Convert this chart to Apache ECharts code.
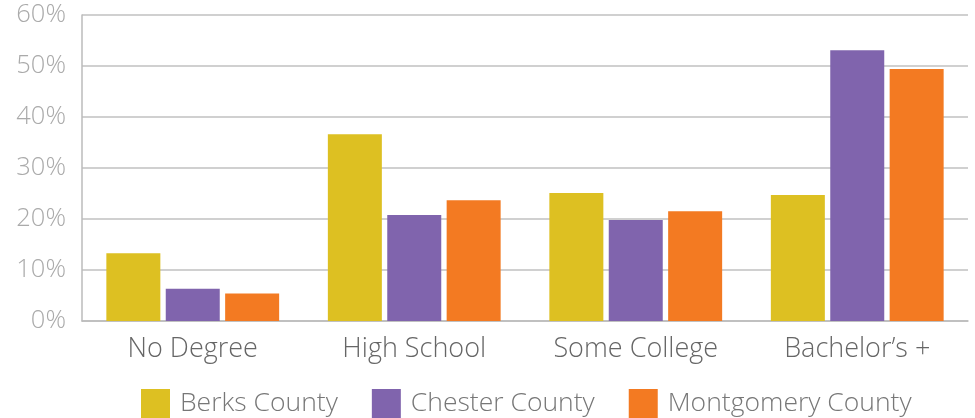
<!DOCTYPE html>
<html><head><meta charset="utf-8">
<script src="https://cdn.jsdelivr.net/npm/echarts@6/dist/echarts.min.js"></script>
<style>html,body{margin:0;padding:0;background:#fff}#c{width:975px;height:418px}</style>
</head><body><div id="c"></div>
<script>
const categories = ["No Degree", "High School", "Some College", "Bachelor\u2019s +"];
const berks = [13.3, 36.6, 25.1, 24.7];
const chester = [6.3, 20.8, 19.8, 53.1];
const montgomery = [5.4, 23.7, 21.5, 49.4];
const seriesNames = ["Berks County", "Chester County", "Montgomery County"];
const colors = ["#DDC022", "#8064AD", "#F37A22"];
const FONT = "Open Sans";
const chart = echarts.init(document.getElementById('c'));
const mk = (name, data, color) => ({
  name, type: 'bar', data, barWidth: 54, barGap: '10%',
  itemStyle: { color }
});
chart.setOption({
  animation: false,
  grid: { left: 82, right: 7, top: 15, bottom: 97 },
  legend: {
    top: 384, left: 136, itemWidth: 29, itemHeight: 29, itemGap: 34,
    icon: 'rect',
    textStyle: { fontFamily: FONT, fontSize: 26.5, lineHeight: 29, color: '#777', fontWeight: 300, padding: [0,0,0,5] },
    data: seriesNames
  },
  xAxis: {
    type: 'category', data: categories,
    axisLine: { lineStyle: { color: '#bbb', width: 1.5 } },
    axisTick: { show: false },
    axisLabel: { fontFamily: FONT, fontSize: 27, color: '#666', fontWeight: 300, margin: 15 }
  },
  yAxis: {
    type: 'value', min: 0, max: 60, interval: 10,
    axisLine: { show: true, lineStyle: { color: '#bbb', width: 1.5 } },
    axisTick: { show: false },
    splitLine: { lineStyle: { color: '#c0c0c0', width: 1.5 } },
    axisLabel: { fontFamily: FONT, fontSize: 25.5, color: '#aaa', fontWeight: 300, margin: 16, formatter: '{value}%' }
  },
  series: [mk(seriesNames[0], berks, colors[0]), mk(seriesNames[1], chester, colors[1]), mk(seriesNames[2], montgomery, colors[2])]
});
</script></body></html>
